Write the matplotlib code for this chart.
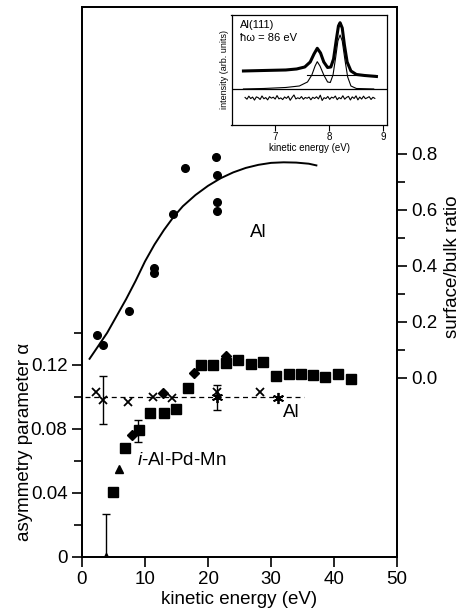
import numpy as np
import matplotlib
matplotlib.use('Agg')
import matplotlib.pyplot as plt

plt.rcParams['font.family'] = ['Liberation Sans', 'DejaVu Sans']
plt.rcParams['mathtext.fontset'] = 'custom'
plt.rcParams['mathtext.it'] = 'Liberation Sans:italic'
plt.rcParams['mathtext.rm'] = 'Liberation Sans'

# --- surface/bulk ratio of Al (right axis) ---
al_ratio_x = [2.4, 3.4, 7.4, 11.4, 11.4, 14.4, 16.4, 21.3, 21.4, 21.4, 21.4]
al_ratio_y = [0.153, 0.118, 0.239, 0.393, 0.373, 0.584, 0.748, 0.788, 0.724, 0.627, 0.594]
fit_x = [1.2, 2.5, 4, 5.5, 7, 8.5, 10, 11.5, 13, 14.5, 16, 18, 20, 22, 24, 26, 28, 30, 32, 34, 36, 37.2]
fit_y = [0.067, 0.11, 0.16, 0.22, 0.28, 0.345, 0.415, 0.475, 0.527, 0.573, 0.612, 0.652,
         0.685, 0.712, 0.733, 0.749, 0.76, 0.767, 0.769, 0.768, 0.764, 0.758]

# --- asymmetry parameter (left axis) ---
sq_x = [4.95, 6.9, 9.0, 10.85, 13.0, 14.96, 16.9, 18.9, 20.85, 22.8, 24.8, 26.75, 28.75,
        30.85, 32.8, 34.7, 36.65, 38.6, 40.6, 42.7]
sq_y = [0.0403, 0.068, 0.079, 0.0896, 0.090, 0.0923, 0.1056, 0.120, 0.1198, 0.121, 0.123,
        0.1206, 0.1215, 0.113, 0.1144, 0.1144, 0.1136, 0.1125, 0.1142, 0.1109]
dia_x = [7.95, 12.85, 17.85, 22.8]
dia_y = [0.076, 0.1025, 0.1146, 0.1254]
tri_x = [3.85, 5.85]
tri_y = [0.0, 0.0546]
cross_x = [2.16, 3.3, 7.3, 11.2, 14.3, 21.4, 28.2]
cross_y = [0.1031, 0.098, 0.0965, 0.100, 0.099, 0.103, 0.103]
star_x = [21.4, 31.1]
star_y = [0.0995, 0.0994]
err_x = [3.3, 21.4, 8.9, 3.85]
err_y = [0.098, 0.0995, 0.0787, 0.0]
err_v = [0.015, 0.008, 0.0068, 0.0265]
al_alpha_mean = 0.0995
al_alpha_span = [0.5, 35.2]

# --- inset: Al(111) 2p spectrum ---
spec_e = [6.42, 6.8, 7.2, 7.4, 7.55, 7.65, 7.72, 7.78, 7.84, 7.9, 7.97, 8.03, 8.08, 8.13,
          8.17, 8.2, 8.24, 8.28, 8.33, 8.4, 8.5, 8.65, 8.87]
spec_i = [54, 54.5, 55, 56, 58, 63, 71, 76.7, 72, 63, 57.5, 58, 66, 85, 99, 102.3, 97, 80,
          63, 54, 50.5, 49.5, 48.5]
comp_e = [6.42, 6.8, 7.2, 7.45, 7.6, 7.68, 7.74, 7.78, 7.83, 7.9, 7.97, 8.02, 8.07, 8.12,
          8.16, 8.2, 8.24, 8.29, 8.34, 8.4, 8.5, 8.82]
comp_i = [36, 36.5, 37.5, 39, 43, 50, 59, 63.3, 59, 50, 43, 42.5, 50, 68, 84, 90, 84, 65,
          48, 39, 36.5, 36]
resid = [0.5, -1.2, 1.8, -0.6, 0.9, -2.1, 1.1, 0.3, -1.5, 2.0, -0.8, 0.4, -1.9, 1.3, -0.2,
         0.8, -1.1, 2.4, -0.9, 0.1, -1.6, 1.0, -0.4, 1.7, -2.3, 0.6, 3.0, -1.0, 0.2, -0.7,
         1.4, -1.3, 0.5, -0.3, 0.9, -1.8, 0.7, -0.5, 1.2, -0.9, 2.8, -2.5, 0.3, -0.6, 1.5,
         -1.4, 0.8, -0.1, 1.9, -1.7, 0.4, -0.8, 2.2, -1.2, 0.6, 1.6, -2.0, 1.1, -0.5, 2.1,
         -1.9, 0.9, -1.1, 1.8, -0.7, 0.2, 1.3, -1.5, 0.7, -0.4]

fs = 13.5
fig = plt.figure(figsize=(4.63, 6.12), dpi=100)
ax = fig.add_axes([0.1771, 0.0904, 0.6804, 0.8982])
ax2 = ax.twinx()

# left axis data
ax.plot(al_alpha_span, [al_alpha_mean, al_alpha_mean], ls=(0, (4, 3)), color='k', lw=0.9)
ax.errorbar(err_x, err_y, yerr=err_v, fmt='none', ecolor='k', elinewidth=1.0, capsize=3, capthick=1.0)
ax.plot(sq_x, sq_y, 's', color='k', ms=7.5)
ax.plot(dia_x, dia_y, 'D', color='k', ms=5)
ax.plot(tri_x, tri_y, '^', color='k', ms=6)
ax.plot(cross_x, cross_y, 'x', color='k', ms=5.5, mew=1.3)
ax.plot(star_x, star_y, marker=(6, 2, 0), ls='none', color='k', ms=8, mew=1.3)

ax.set_xlim(0, 50)
ax.set_ylim(0, 0.3436)
ax.set_xticks([0, 10, 20, 30, 40, 50])
ax.set_yticks([0, 0.04, 0.08, 0.12], ['0', '0.04', '0.08', '0.12'])
ax.set_yticks([0.02, 0.06, 0.10, 0.14], minor=True)
ax.tick_params(which='both', direction='out', width=1.2, labelsize=fs, top=False, right=False)
ax.tick_params(which='major', length=7)
ax.tick_params(which='minor', length=6)
ax.set_xlabel('kinetic energy (eV)', fontsize=fs, labelpad=2)
ax.set_ylabel('asymmetry parameter α', fontsize=fs)
ax.yaxis.set_label_coords(-0.156, 0.209)
ax.text(8.7, 0.0604, '$i$-Al-Pd-Mn', fontsize=fs, ha='left', va='center')
ax.text(33.2, 0.09, 'Al', fontsize=fs, ha='center', va='center')

# right axis data
ax2.plot(fit_x, fit_y, color='k', lw=1.4)
ax2.plot(al_ratio_x, al_ratio_y, 'o', color='k', ms=5.5)
ax2.set_ylim(-0.64, 1.324)
ax2.set_yticks([0.0, 0.2, 0.4, 0.6, 0.8], ['0.0', '0.2', '0.4', '0.6', '0.8'])
ax2.set_yticks([0.1, 0.3, 0.5, 0.7], minor=True)
ax2.tick_params(which='both', direction='out', width=1.2, labelsize=fs)
ax2.tick_params(which='major', length=7)
ax2.tick_params(which='minor', length=6)
ax2.set_ylabel('surface/bulk ratio', fontsize=fs)
ax2.yaxis.set_label_coords(1.148, 0.5276)
ax2.text(28, 0.52, 'Al', fontsize=fs, ha='center', va='center')

for a in (ax, ax2):
    for s in a.spines.values():
        s.set_linewidth(1.3)

# inset
ins = fig.add_axes([0.5, 0.7958, 0.3365, 0.1797])
ins.plot(spec_e, spec_i, color='k', lw=2.2)
ins.plot(comp_e, comp_i, color='k', lw=0.8)
ins.plot([7.6, 8.85], [50, 50], color='k', lw=0.8)
ins.axhline(35.7, color='k', lw=0.9)
ins.plot(np.linspace(6.45, 8.84, len(resid)), 27 + np.array(resid), color='k', lw=0.8)
ins.set_xlim(6.2, 9.07)
ins.set_ylim(0, 110)
ins.set_xticks([7, 8, 9])
ins.set_yticks([])
ins.tick_params(direction='out', length=4, width=0.8, labelsize=7, pad=1)
ins.set_xlabel('kinetic energy (eV)', fontsize=7, labelpad=1)
ins.set_ylabel('intensity (arb. units)', fontsize=6.5, labelpad=2)
ins.text(0.055, 0.955, 'Al(111)', transform=ins.transAxes, fontsize=8, va='top', ha='left')
ins.text(0.055, 0.836, 'ħω = 86 eV', transform=ins.transAxes, fontsize=8, va='top', ha='left')
for s in ins.spines.values():
    s.set_linewidth(0.9)

fig.savefig('out.png', dpi=100)
